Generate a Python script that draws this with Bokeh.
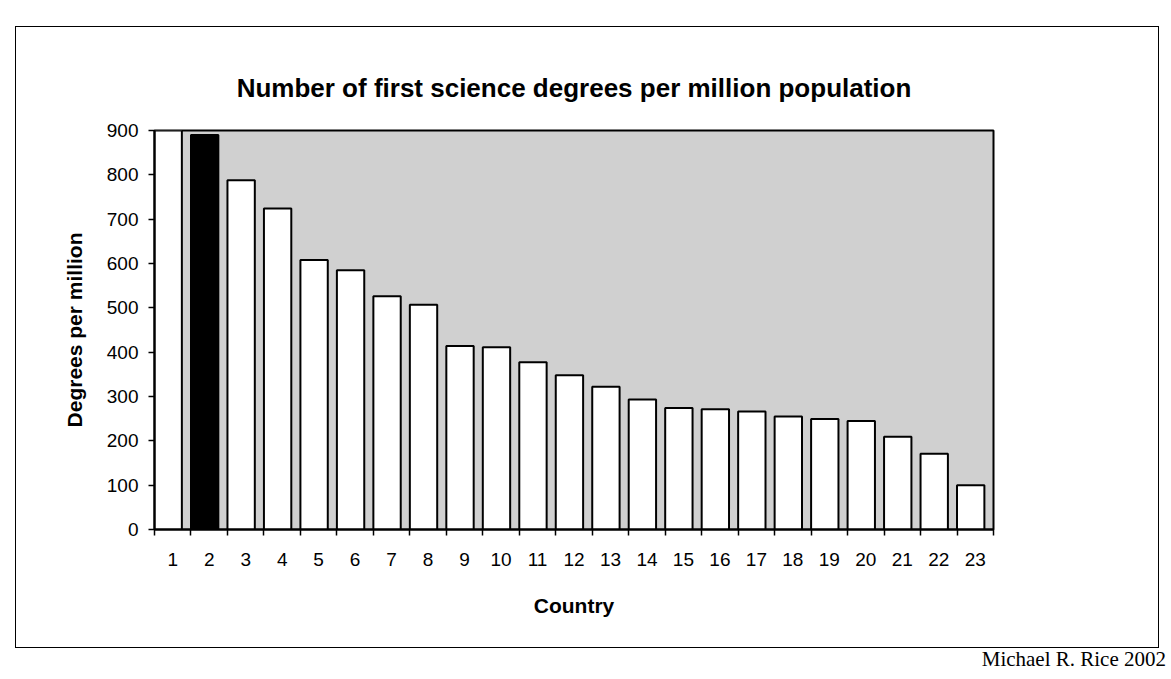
from bokeh.plotting import figure
from bokeh.models import ColumnDataSource, FixedTicker, Div
from bokeh.layouts import column
from bokeh.transform import dodge
from bokeh.embed import file_html
from bokeh.resources import INLINE

# ---- data ----
countries = list(range(1, 24))
degrees = [900, 890, 788, 724, 608, 585, 526, 507, 414, 411, 377, 348,
           322, 293, 274, 271, 266, 255, 249, 245, 209, 171, 100]
highlighted = [2]
y_ticks = [0, 100, 200, 300, 400, 500, 600, 700, 800, 900]
title_text = "Number of first science degrees per million population"
x_title = "Country"
y_title = "Degrees per million"
credit = "Michael R. Rice 2002"

SANS = "Liberation Sans"
SERIF = "Liberation Serif"

colors = ["black" if c in highlighted else "white" for c in countries]
src = ColumnDataSource(data=dict(country=countries, degrees=degrees, color=colors))

boundaries = [c - 0.5 for c in countries] + [countries[-1] + 0.5]

p = figure(width=1144, height=622,
           x_range=(countries[0] - 0.5, countries[-1] + 0.5),
           y_range=(y_ticks[0], y_ticks[-1]),
           output_backend="svg", toolbar_location=None,
           min_border_left=138, min_border_right=167,
           min_border_top=103, min_border_bottom=120,
           margin=(26, 0, 0, 15),
           styles={"border": "1px solid black"})

p.background_fill_color = "#d0d0d0"
p.border_fill_color = "white"
p.outline_line_color = "black"
p.outline_line_width = 2
p.xgrid.visible = False
p.ygrid.visible = False

p.vbar(x=dodge("country", -0.125, range=p.x_range), top="degrees", width=0.75,
       source=src, fill_color="color", line_color="black", line_width=2)

# title
p.title.text = title_text
p.title.align = "center"
p.title.text_font = SANS
p.title.text_font_size = "26px"
p.title.text_font_style = "bold"
p.title.text_color = "black"
p.title.standoff = 55
p.title.offset = 0

# x axis
xa = p.xaxis[0]
xa.ticker = FixedTicker(ticks=countries, minor_ticks=boundaries)
xa.major_tick_out = 0
xa.major_tick_in = 0
xa.minor_tick_out = 6
xa.minor_tick_in = 0
xa.minor_tick_line_color = "black"
xa.minor_tick_line_width = 1.5
xa.axis_line_width = 2
xa.major_label_text_font = SANS
xa.major_label_text_font_size = "19px"
xa.major_label_text_color = "black"
xa.major_label_standoff = 17
xa.axis_label = x_title
xa.axis_label_text_font = SANS
xa.axis_label_text_font_size = "21px"
xa.axis_label_text_font_style = "bold"
xa.axis_label_text_color = "black"
xa.axis_label_standoff = 25

# y axis
ya = p.yaxis[0]
ya.ticker = FixedTicker(ticks=y_ticks)
ya.major_tick_out = 6
ya.major_tick_in = 0
ya.major_tick_line_width = 1.5
ya.minor_tick_line_color = None
ya.axis_line_width = 2
ya.major_label_text_font = SANS
ya.major_label_text_font_size = "19px"
ya.major_label_text_color = "black"
ya.major_label_standoff = 10
ya.axis_label = y_title
ya.axis_label_text_font = SANS
ya.axis_label_text_font_size = "21px"
ya.axis_label_text_font_style = "bold"
ya.axis_label_text_color = "black"
ya.axis_label_standoff = 18

credit_div = Div(text=credit, width=1166, height=20, margin=(0, 0, 0, 0),
                 styles={"text-align": "right", "font-family": SERIF,
                         "font-size": "21px", "line-height": "22px",
                         "color": "black"})

layout = column(p, credit_div, spacing=0)

open("out.html", "w").write(file_html(layout, INLINE))
